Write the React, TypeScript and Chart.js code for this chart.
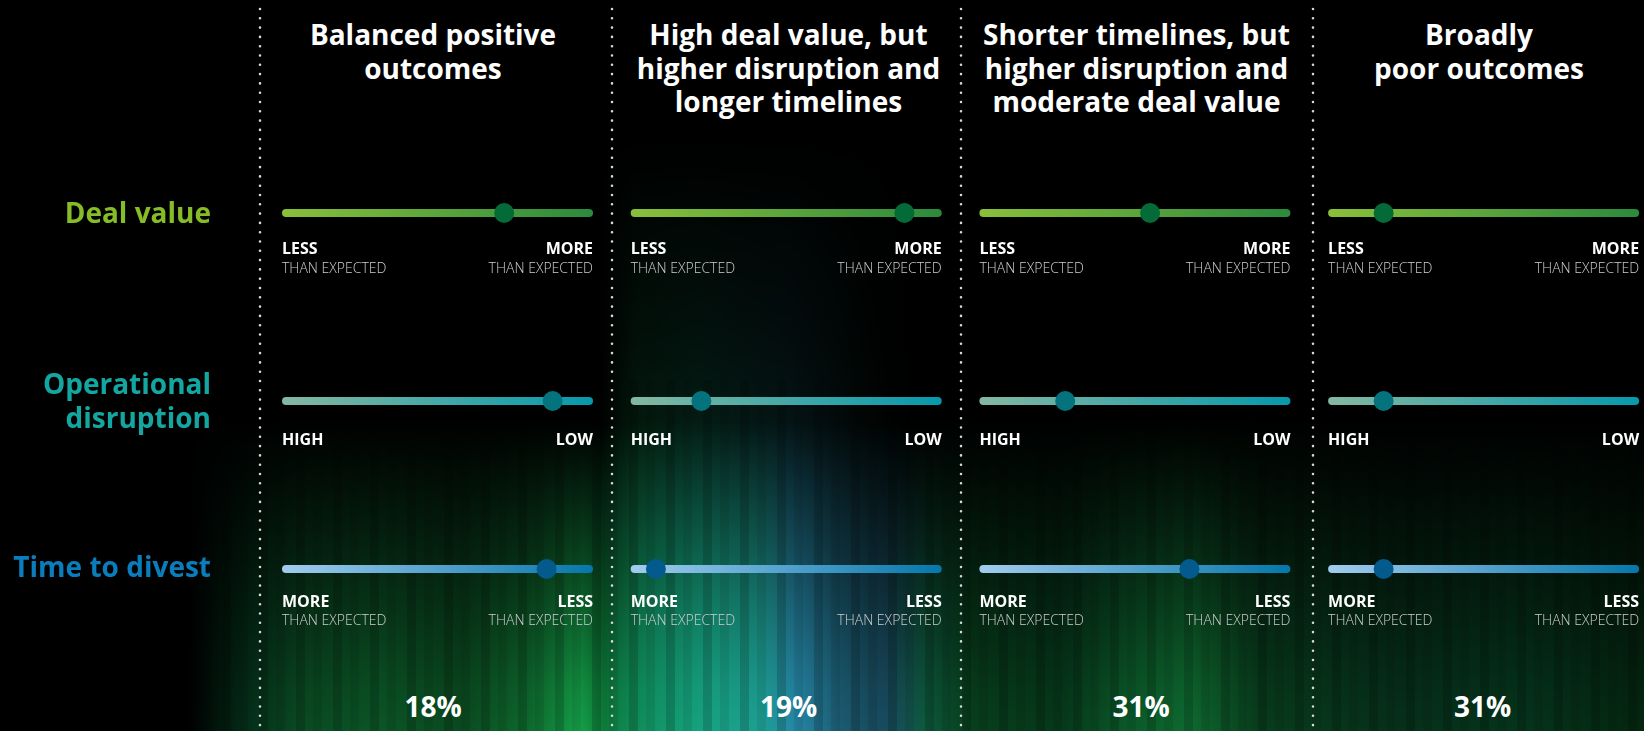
import React, { useEffect, useRef } from "react";
import { Chart, registerables } from "chart.js";

Chart.register(...registerables);

// ---------- data ----------
const SCENARIOS: string[][] = [
  ["Balanced positive", "outcomes"],
  ["High deal value, but", "higher disruption and", "longer timelines"],
  ["Shorter timelines, but", "higher disruption and", "moderate deal value"],
  ["Broadly", "poor outcomes"],
];
const SHARES = ["18%", "19%", "31%", "31%"];
const CRITERIA: string[][] = [["Deal value"], ["Operational", "disruption"], ["Time to divest"]];
// slider position of each scenario (0 = left end, 100 = right end)
const DEAL_VALUE = [72, 89, 55, 17];
const OPERATIONAL_DISRUPTION = [88, 22, 27, 17];
const TIME_TO_DIVEST = [86, 7, 68, 17];
const LEFT_LABELS: string[][] = [["LESS", "THAN EXPECTED"], ["HIGH"], ["MORE", "THAN EXPECTED"]];
const RIGHT_LABELS: string[][] = [["MORE", "THAN EXPECTED"], ["LOW"], ["LESS", "THAN EXPECTED"]];

const ROW_VALUES = [DEAL_VALUE, OPERATIONAL_DISRUPTION, TIME_TO_DIVEST];

// ---------- layout & style ----------
const W = 1644;
const H = 731;
const TRACK_LEFT = 286;
const TRACK_PX = 303;
const COL_PX = 348.7;
const SPAN = 100;
const STEP = (SPAN * COL_PX) / TRACK_PX;
const ROW_Y = [213, 400.5, 569];
const LABEL_DY = [[36, 56], [39.5], [33, 52]];
const CRITERIA_DY = [2, 2, 0];
const CANVAS_H = 120;
const ROW_OFFSET = 50;
const SEPARATORS_X = [260, 612, 961, 1313];
const TITLE_X = [433, 788.5, 1136.5, 1479];
const SHARE_X = [433, 788.5, 1141, 1482.5];
const FONT = '"Open Sans", "Noto Sans", sans-serif';

const ROW_STYLES = [
  { label: "#86BC25", from: "#8AC03A", to: "#2B8A3C", dot: "#046A38" },
  { label: "#14A7A2", from: "#84B8A2", to: "#0699AC", dot: "#05737E" },
  { label: "#0A7EBD", from: "#A2CCEE", to: "#0477AB", dot: "#045A8D" },
];

function drawEnd(ctx: CanvasRenderingContext2D, lbl: string[], dy: number[], x: number, align: CanvasTextAlign, y0: number) {
  ctx.textAlign = align;
  ctx.font = `700 16px ${FONT}`;
  ctx.fillStyle = "#ffffff";
  ctx.fillText(lbl[0], x, y0 + dy[0]);
  if (lbl.length > 1) {
    ctx.font = `300 14px ${FONT}`;
    ctx.fillStyle = "#cfcfcf";
    ctx.fillText(lbl[1], x, y0 + dy[1]);
  }
}

const sliderLabels = (row: number) => ({
  id: "sliderLabels" + row,
  afterDatasetsDraw(chart: any) {
    const { ctx, scales } = chart;
    const xs = scales.x;
    const ys = scales.y;
    const y0 = ys.getPixelForValue(0);
    const st = ROW_STYLES[row];
    ctx.save();
    ctx.textBaseline = "middle";
    ctx.textAlign = "right";
    ctx.fillStyle = st.label;
    ctx.font = `700 28px ${FONT}`;
    const lines = CRITERIA[row];
    lines.forEach((t, i) =>
      ctx.fillText(t, xs.left - 75, y0 + CRITERIA_DY[row] + (i - (lines.length - 1) / 2) * 33.5)
    );
    for (let k = 0; k < ROW_VALUES[row].length; k++) {
      const xl = xs.getPixelForValue(k * STEP) - 4;
      const xr = xs.getPixelForValue(k * STEP + SPAN) + 4;
      drawEnd(ctx, LEFT_LABELS[row], LABEL_DY[row], xl, "left", y0);
      drawEnd(ctx, RIGHT_LABELS[row], LABEL_DY[row], xr, "right", y0);
    }
    ctx.restore();
  },
});

function SliderRow({ row }: { row: number }) {
  const ref = useRef<HTMLCanvasElement>(null);
  useEffect(() => {
    const canvas = ref.current;
    if (!canvas) return;
    const st = ROW_STYLES[row];
    const values = ROW_VALUES[row];
    const trackColor = (k: number) => (c: any) => {
      const ch = c.chart;
      const xs = ch.scales && ch.scales.x;
      if (!xs || !ch.chartArea) return st.from;
      const g = ch.ctx.createLinearGradient(
        xs.getPixelForValue(k * STEP) - 4, 0,
        xs.getPixelForValue(k * STEP + SPAN) + 4, 0
      );
      g.addColorStop(0, st.from);
      g.addColorStop(1, st.to);
      return g;
    };
    const datasets: any[] = [
      {
        label: "position",
        data: values.map((v, k) => ({ x: k * STEP + v, y: 0 })),
        pointRadius: 10,
        pointHoverRadius: 10,
        pointBackgroundColor: st.dot,
        pointBorderWidth: 0,
        showLine: false,
        order: 0,
        clip: false,
      },
      ...values.map((_, k) => ({
        label: "track" + k,
        data: [
          { x: k * STEP, y: 0 },
          { x: k * STEP + SPAN, y: 0 },
        ],
        showLine: true,
        borderWidth: 8,
        borderCapStyle: "round",
        borderColor: trackColor(k),
        pointRadius: 0,
        pointHoverRadius: 0,
        order: 1,
        clip: false,
      })),
    ];
    const chart = new Chart(canvas, {
      type: "scatter",
      data: { datasets },
      options: {
        animation: false,
        responsive: false,
        events: [],
        layout: {
          autoPadding: false,
          padding: {
            left: TRACK_LEFT,
            right: W - (TRACK_LEFT + 3 * COL_PX + TRACK_PX),
            top: ROW_OFFSET - 10,
            bottom: CANVAS_H - ROW_OFFSET - 10,
          },
        },
        scales: {
          x: { type: "linear", min: 0, max: 3 * STEP + SPAN, display: false },
          y: { type: "linear", min: -1, max: 1, display: false },
        },
        plugins: { legend: { display: false }, tooltip: { enabled: false } },
      } as any,
      plugins: [sliderLabels(row)],
    });
    return () => chart.destroy();
  }, [row]);
  return (
    <canvas
      ref={ref}
      width={W}
      height={CANVAS_H}
      style={{ position: "absolute", left: 0, top: ROW_Y[row] - ROW_OFFSET, width: W, height: CANVAS_H }}
    />
  );
}

const GLOW = `linear-gradient(90deg, rgba(0,0,0,0) 0px, rgba(0,0,0,0) 190px, #04301a 250px, #0a4a22 300px, #0b5526 380px, #0a4a20 460px, #0e6a2e 530px, #14a048 580px, #0c7a38 605px, #11a07a 650px, #19b094 710px, #1fb0a0 760px, #2a8cb8 795px, #1e5878 840px, #1b4c66 885px, #0d5a3e 925px, #073f1c 970px, #06381a 1060px, #0b5a2a 1130px, #0e6a30 1190px, #083c1c 1260px, #06301a 1400px, #05341c 1520px, #04260f 1644px)`;
const GLOW_MASK = `linear-gradient(180deg, rgba(0,0,0,0) 0px, rgba(0,0,0,0) 420px, rgba(0,0,0,0.45) 560px, rgba(0,0,0,0.9) 690px, #000 731px)`;
const GLOW2 = `linear-gradient(90deg, rgba(0,0,0,0) 600px, rgba(16,130,70,0.5) 635px, rgba(20,150,110,0.5) 700px, rgba(30,130,140,0.4) 790px, rgba(10,70,50,0.2) 870px, rgba(0,0,0,0) 910px)`;
const GLOW2_MASK = `linear-gradient(180deg, rgba(0,0,0,0) 0px, rgba(0,0,0,0) 140px, rgba(0,0,0,0.25) 350px, rgba(0,0,0,0.6) 560px, #000 731px)`;
const STRIPES = `repeating-linear-gradient(90deg, rgba(0,0,0,0.16) 0px, rgba(0,0,0,0.16) 9px, rgba(0,0,0,0) 9px, rgba(0,0,0,0) 17px, rgba(0,0,0,0.08) 17px, rgba(0,0,0,0.08) 26px, rgba(0,0,0,0) 26px, rgba(0,0,0,0) 37px)`;

export default function App() {
  useEffect(() => {
    document.body.style.margin = "0";
    document.body.style.background = "#000";
  }, []);
  return (
    <div style={{ position: "absolute", left: 0, top: 0, width: W, height: H, background: "#000", overflow: "hidden", fontFamily: FONT }}>
      <div
        style={{
          position: "absolute", left: 0, top: 0, width: W, height: H,
          backgroundImage: GLOW,
          WebkitMaskImage: GLOW_MASK, maskImage: GLOW_MASK,
        } as any}
      />
      <div
        style={{
          position: "absolute", left: 0, top: 0, width: W, height: H,
          backgroundImage: GLOW2,
          WebkitMaskImage: GLOW2_MASK, maskImage: GLOW2_MASK,
        } as any}
      />
      <div style={{ position: "absolute", left: 0, top: 380, width: W, height: H - 380, backgroundImage: STRIPES }} />
      <svg width={W} height={H} style={{ position: "absolute", left: 0, top: 0 }}>
        {SEPARATORS_X.map((x) => (
          <line key={x} x1={x} x2={x} y1={9} y2={H} stroke="#d8d8d8" strokeWidth={2.6} strokeDasharray="0 9.3" strokeLinecap="round" />
        ))}
      </svg>
      {SCENARIOS.map((lines, k) => (
        <div
          key={"t" + k}
          style={{
            position: "absolute", left: TITLE_X[k] - 185, width: 370, top: 18,
            textAlign: "center", color: "#fff", fontWeight: 700, fontSize: 28, lineHeight: "33.5px",
            whiteSpace: "nowrap",
          }}
        >
          {lines.map((l, i) => (
            <div key={i}>{l}</div>
          ))}
        </div>
      ))}
      {SHARES.map((s, k) => (
        <div
          key={"p" + k}
          style={{
            position: "absolute", left: SHARE_X[k] - 100, width: 200, top: 689,
            textAlign: "center", color: "#fff", fontWeight: 700, fontSize: 28, lineHeight: "34px",
          }}
        >
          {s}
        </div>
      ))}
      {CRITERIA.map((_, r) => (
        <SliderRow key={r} row={r} />
      ))}
    </div>
  );
}
